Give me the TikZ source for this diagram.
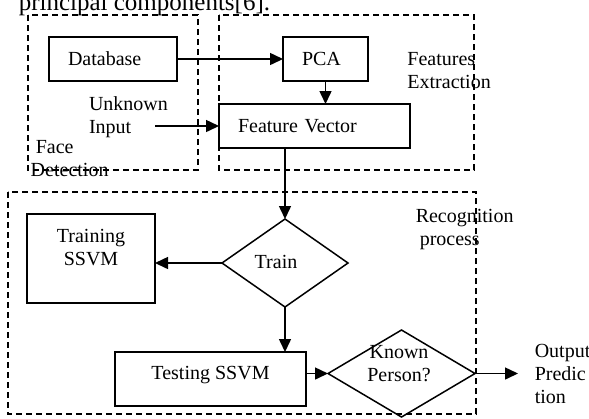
\documentclass[tikz,border=0pt]{standalone}
\usepackage{fontspec}
\setmainfont{Liberation Serif}
\usetikzlibrary{arrows.meta,shapes.geometric}

\begin{document}
\begin{tikzpicture}[
    x=0.6pt, y=-0.6pt,
    line width=0.9pt,
    box/.style={draw, rectangle, minimum height=26.4pt, inner sep=0pt, outer sep=0pt},
    lbox/.style={box, align=left, inner xsep=11.4pt},
    decision/.style={draw, diamond, inner sep=0pt, outer sep=0pt},
    region/.style={draw, dash pattern=on 3.8pt off 2.2pt, line width=0.9pt},
    txt/.style={inner sep=0pt, align=left, anchor=north west},
    >={Triangle[length=7.8pt, width=7.2pt]},
    font=\fontsize{12}{13.8}\selectfont
]
    \useasboundingbox (0,0) rectangle (589,418);

    % 页面上方的残留文字
    \node[inner sep=0pt, anchor=base west, font=\fontsize{15}{18}\selectfont] (cap) at (18,10) {principal components[6].};

    % 虚线区域 (3个)
    \draw[region] (28,15) rectangle (198,170);    % Face Detection
    \draw[region] (219,15) rectangle (474,170);   % Features Extraction
    \draw[region] (8,192) rectangle (476,414);    % Recognition process

    % 节点定义
    \node[lbox, text width=54pt] (db) at (113,59) {Database};
    \node[lbox, text width=28.2pt] (pca) at (325.5,59) {PCA};
    \node[lbox, text width=91.8pt] (fv) at (314.5,126) {Feature Vector};
    \node[decision, minimum width=75.6pt, minimum height=52.8pt,
          label={[xshift=-5.4pt, yshift=0.9pt]center:Train}] (train) at (285,263) {};
    \node[box, minimum width=76.8pt, minimum height=53.4pt,
          label={[align=center, anchor=north, yshift=-5.2pt]north:Training\\SSVM}] (trsvm) at (91,258.5) {};
    \node[box, minimum width=114.6pt, minimum height=32.4pt,
          label={[anchor=north, yshift=-4.6pt]north:Testing SSVM}] (test) at (210.5,379) {};
    \node[decision, minimum width=88.2pt, minimum height=52.2pt,
          label={[align=center, xshift=-1.5pt, yshift=6pt]center:Known\\Person?}] (known) at (401.5,373.5) {};

    % 文字标注
    \node[txt] (unk) at (88.3,95.5) {Unknown\\Input};
    \node[txt] (facelbl) at (30,139.2) {\hspace*{3pt}Face\\Detection};
    \node[txt] (featlbl) at (406.7,51.5) {Features\\Extraction};
    \node[txt] (reclbl) at (415,208.9) {Recognition\\\hspace*{2.4pt}process};
    \node[txt] (outlbl) at (534,343.5) {Output\\Predic\\tion};

    \coordinate (uin) at (155,126);
    \coordinate (out) at (518,373.5);

    % 箭头
    \draw[->] (db) -- (pca);
    \draw[->] (pca.south) -- (pca.south |- fv.north);
    \draw[->] (uin) -- (fv.west);
    \draw[->] (fv.south -| train.north) -- (train.north);
    \draw[->] (train.west) -- (train.west -| trsvm.east);
    \draw[->] (train.south) -- (train.south |- test.north);
    \draw[->] (test.east |- known.west) -- (known.west);
    \draw[->] (known.east) -- (out);

\end{tikzpicture}
\end{document}
